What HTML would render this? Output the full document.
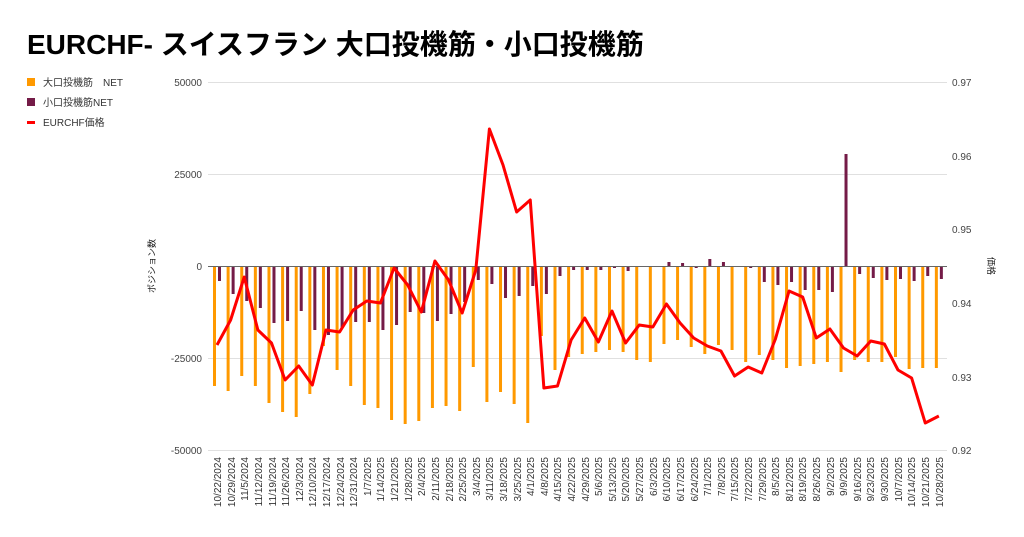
<!DOCTYPE html>
<html><head><meta charset="utf-8"><style>
body{margin:0;background:#fff;width:1024px;height:532px;overflow:hidden;font-family:"Liberation Sans","Noto Sans CJK JP",sans-serif}
svg text{font-family:"Liberation Sans","Noto Sans CJK JP",sans-serif}
</style></head><body>
<svg id="s" width="1024" height="532" xmlns="http://www.w3.org/2000/svg">
<text x="27" y="54" font-size="28" font-weight="bold" fill="#000">EURCHF- スイスフラン 大口投機筋・小口投機筋</text>
<rect x="27" y="78" width="8" height="8" fill="#ff9900"/><text x="43" y="86" font-size="10" fill="#333">大口投機筋　NET</text>
<rect x="27" y="98" width="8" height="8" fill="#741b47"/><text x="43" y="106" font-size="10" fill="#333">小口投機筋NET</text>
<rect x="27" y="121" width="8" height="3" fill="#ff0000"/><text x="43" y="126" font-size="10" fill="#333">EURCHF価格</text>
<g stroke="#e0e0e0" stroke-width="1">
<line x1="208" y1="82.5" x2="947" y2="82.5"/><line x1="208" y1="174.5" x2="947" y2="174.5"/>
<line x1="208" y1="358.5" x2="947" y2="358.5"/><line x1="208" y1="450.5" x2="947" y2="450.5"/>
</g>
<g font-size="10" fill="#444" text-anchor="end">
<text x="202" y="86">50000</text><text x="202" y="178">25000</text><text x="202" y="270">0</text><text x="202" y="362">-25000</text><text x="202" y="454">-50000</text>
</g>
<g font-size="10" fill="#444">
<text x="952" y="86">0.97</text><text x="952" y="160">0.96</text><text x="952" y="233">0.95</text><text x="952" y="307">0.94</text><text x="952" y="381">0.93</text><text x="952" y="454">0.92</text>
</g>
<text transform="translate(155,266) rotate(-90)" font-size="9" fill="#222" text-anchor="middle">ポジション数</text>
<text transform="translate(988,266) rotate(90)" font-size="9" fill="#222" text-anchor="middle">価格</text>
<g id="bars"></g>
<line x1="208" y1="266.5" x2="947" y2="266.5" stroke="#666" stroke-width="1"/>
<polyline id="ln" fill="none" stroke="#ff0000" stroke-width="3" stroke-linejoin="round"/>
<g id="lab" font-size="10" fill="#333" text-anchor="end">
<text transform="translate(221,457) rotate(-90)">10/22/2024</text>
<text transform="translate(235,457) rotate(-90)">10/29/2024</text>
<text transform="translate(248,457) rotate(-90)">11/5/2024</text>
<text transform="translate(262,457) rotate(-90)">11/12/2024</text>
<text transform="translate(276,457) rotate(-90)">11/19/2024</text>
<text transform="translate(289,457) rotate(-90)">11/26/2024</text>
<text transform="translate(303,457) rotate(-90)">12/3/2024</text>
<text transform="translate(316,457) rotate(-90)">12/10/2024</text>
<text transform="translate(330,457) rotate(-90)">12/17/2024</text>
<text transform="translate(344,457) rotate(-90)">12/24/2024</text>
<text transform="translate(357,457) rotate(-90)">12/31/2024</text>
<text transform="translate(371,457) rotate(-90)">1/7/2025</text>
<text transform="translate(384,457) rotate(-90)">1/14/2025</text>
<text transform="translate(398,457) rotate(-90)">1/21/2025</text>
<text transform="translate(412,457) rotate(-90)">1/28/2025</text>
<text transform="translate(425,457) rotate(-90)">2/4/2025</text>
<text transform="translate(439,457) rotate(-90)">2/11/2025</text>
<text transform="translate(453,457) rotate(-90)">2/18/2025</text>
<text transform="translate(466,457) rotate(-90)">2/25/2025</text>
<text transform="translate(480,457) rotate(-90)">3/4/2025</text>
<text transform="translate(493,457) rotate(-90)">3/11/2025</text>
<text transform="translate(507,457) rotate(-90)">3/18/2025</text>
<text transform="translate(521,457) rotate(-90)">3/25/2025</text>
<text transform="translate(534,457) rotate(-90)">4/1/2025</text>
<text transform="translate(548,457) rotate(-90)">4/8/2025</text>
<text transform="translate(561,457) rotate(-90)">4/15/2025</text>
<text transform="translate(575,457) rotate(-90)">4/22/2025</text>
<text transform="translate(589,457) rotate(-90)">4/29/2025</text>
<text transform="translate(602,457) rotate(-90)">5/6/2025</text>
<text transform="translate(616,457) rotate(-90)">5/13/2025</text>
<text transform="translate(629,457) rotate(-90)">5/20/2025</text>
<text transform="translate(643,457) rotate(-90)">5/27/2025</text>
<text transform="translate(657,457) rotate(-90)">6/3/2025</text>
<text transform="translate(670,457) rotate(-90)">6/10/2025</text>
<text transform="translate(684,457) rotate(-90)">6/17/2025</text>
<text transform="translate(698,457) rotate(-90)">6/24/2025</text>
<text transform="translate(711,457) rotate(-90)">7/1/2025</text>
<text transform="translate(725,457) rotate(-90)">7/8/2025</text>
<text transform="translate(738,457) rotate(-90)">7/15/2025</text>
<text transform="translate(752,457) rotate(-90)">7/22/2025</text>
<text transform="translate(766,457) rotate(-90)">7/29/2025</text>
<text transform="translate(779,457) rotate(-90)">8/5/2025</text>
<text transform="translate(793,457) rotate(-90)">8/12/2025</text>
<text transform="translate(806,457) rotate(-90)">8/19/2025</text>
<text transform="translate(820,457) rotate(-90)">8/26/2025</text>
<text transform="translate(834,457) rotate(-90)">9/2/2025</text>
<text transform="translate(847,457) rotate(-90)">9/9/2025</text>
<text transform="translate(861,457) rotate(-90)">9/16/2025</text>
<text transform="translate(874,457) rotate(-90)">9/23/2025</text>
<text transform="translate(888,457) rotate(-90)">9/30/2025</text>
<text transform="translate(902,457) rotate(-90)">10/7/2025</text>
<text transform="translate(915,457) rotate(-90)">10/14/2025</text>
<text transform="translate(929,457) rotate(-90)">10/21/2025</text>
<text transform="translate(943,457) rotate(-90)">10/28/2025</text>
</g>
</svg>
<script>
var O=[386,391,376,386,403,412,417,394,346,370,386,405,408,420,424,421,408,406,411,367,402,392,404,423,336,370,357,354,352,350,352,360,362,344,340,347,354,345,350,362,355,360,368,366,364,362,372,360,362,362,357,369,368,368];
var P=[281,294,301,308,323,321,311,330,335,328,322,322,330,325,312,313,321,314,302,280,284,298,296,286,294,276,270,270,270,268,271,267,266,262,263,268,259,262,267,268,282,285,282,290,290,292,154,274,278,280,279,281,276,279];
var L=[345,320,277,330,343,380,366,385,330,332,310,301,303,268,285,312,261,280,313,270,129,165,212,200,388,386,340,318,342,311,343,325,327,304,323,338,346,351,376,367,373,339,291,297,338,329,348,356,341,344,370,378,423,416];
var g=document.getElementById('bars'),h='',pts=[];
for(var i=0;i<54;i++){var x=213+i*13.62;
h+='<rect x="'+x+'" y="'+Math.min(266,O[i])+'" width="3" height="'+Math.abs(O[i]-266)+'" fill="#ff9900"/>';
h+='<rect x="'+(x+5)+'" y="'+Math.min(266,P[i])+'" width="3" height="'+Math.abs(P[i]-266)+'" fill="#741b47"/>';
pts.push((x+4)+','+L[i]);}
g.innerHTML=h;document.getElementById('ln').setAttribute('points',pts.join(' '));
</script>
</body></html>
